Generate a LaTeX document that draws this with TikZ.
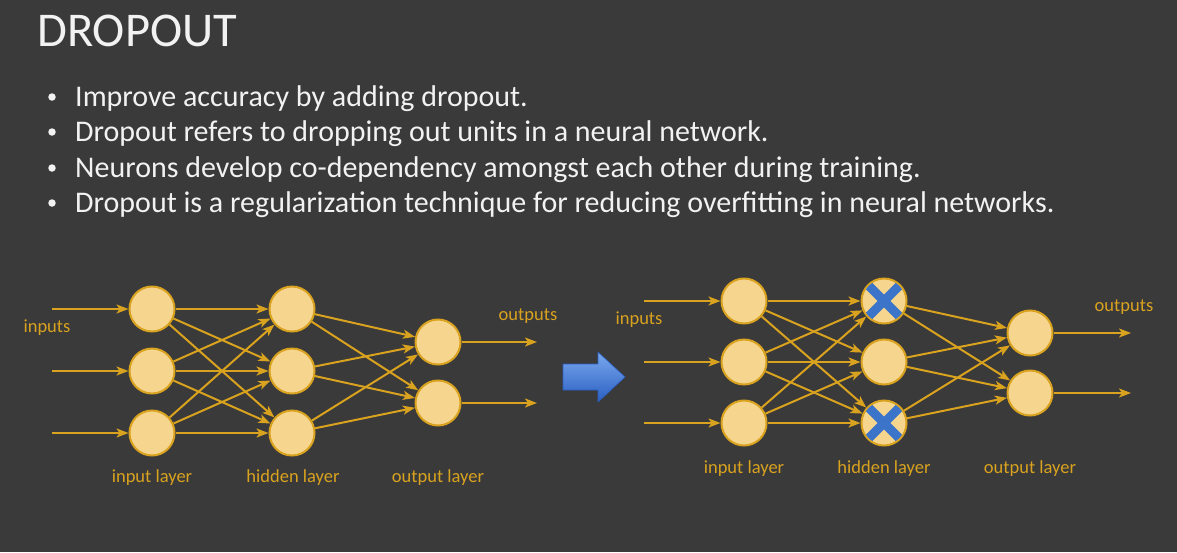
\documentclass[tikz,border=0pt]{standalone}
\usepackage{fontspec}
\setmainfont{Carlito}
\usetikzlibrary{arrows.meta}
\definecolor{bg}{HTML}{3A3A3A}
\definecolor{gold}{HTML}{D9A21F}
\definecolor{nfill}{HTML}{F6D58E}
\definecolor{xblue}{HTML}{3B74C9}
\definecolor{abtop}{HTML}{7AA8EE}
\definecolor{abbot}{HTML}{2A5FC2}
\definecolor{txt}{HTML}{F2F2F2}
\begin{document}
\begin{tikzpicture}[x=1pt,y=-1pt,
 neuron/.style={circle,draw=gold,line width=2pt,fill=nfill,minimum size=45pt,inner sep=0pt},
 conn/.style={draw=gold,line width=2pt,-{Stealth[length=12pt,width=9pt,inset=3pt]}},
 lbl/.style={text=gold,font=\fontsize{18.5}{21}\selectfont},
 btext/.style={text=txt,anchor=base west,inner sep=0pt,font=\fontsize{30}{34}\selectfont},
 bdot/.style={circle,fill=txt,minimum size=7.5pt,inner sep=0pt},
 crossx/.style={draw=xblue,line width=9pt}]
\fill[bg] (0,0) rectangle (1177,552);
\useasboundingbox (0,0) rectangle (1177,552);

\node[text=txt,anchor=base west,inner sep=0pt,font=\fontsize{48.5}{52}\selectfont] (title) at (37,46) {DROPOUT};

\foreach \y/\t [count=\k] in {106/{Improve accuracy by adding dropout.},
  141/{Dropout refers to dropping out units in a neural network.},
  177/{Neurons develop co-dependency amongst each other during training.},
  212/{Dropout is a regularization technique for reducing overfitting in neural networks.}}{
  \node[bdot] (bd\k) at (52,\y-9) {};
  \node[btext] (bt\k) at (75,\y) {\t};
}

% left network
\foreach \i/\y in {1/309,2/371,3/433}{
  \node[neuron] (LI\i) at (152,\y) {};
  \node[neuron] (LH\i) at (292,\y) {};
  \coordinate (LS\i) at (52,\y);
}
\node[neuron] (LO1) at (438,342) {};
\node[neuron] (LO2) at (438,403) {};
\coordinate (LE1) at (537,342);
\coordinate (LE2) at (537,403);
\foreach \i in {1,2,3}{
  \draw[conn] (LS\i) -- (LI\i);
  \foreach \j in {1,2,3} \draw[conn] (LI\i) -- (LH\j);
  \foreach \j in {1,2} \draw[conn] (LH\i) -- (LO\j);
}
\foreach \j in {1,2} \draw[conn] (LO\j) -- (LE\j);
\node[lbl] (Linputs) at (47,328) {inputs};
\node[lbl] (Loutputs) at (528,316) {outputs};
\node[lbl] (Linl) at (152,478) {input layer};
\node[lbl] (Lhl) at (293,478) {hidden layer};
\node[lbl] (Lol) at (438,478) {output layer};

% right network
\foreach \i/\y in {1/301,2/362,3/423}{
  \node[neuron] (RI\i) at (744,\y) {};
  \node[neuron] (RH\i) at (884,\y) {};
  \coordinate (RS\i) at (644,\y);
}
\node[neuron] (RO1) at (1030,333) {};
\node[neuron] (RO2) at (1030,393) {};
\coordinate (RE1) at (1131,333);
\coordinate (RE2) at (1131,393);
\foreach \i in {1,2,3}{
  \draw[conn] (RS\i) -- (RI\i);
  \foreach \j in {1,2,3} \draw[conn] (RI\i) -- (RH\j);
  \foreach \j in {1,2} \draw[conn] (RH\i) -- (RO\j);
}
\foreach \j in {1,2} \draw[conn] (RO\j) -- (RE\j);
\foreach \n in {RH1,RH3}{
  \begin{scope}
    \clip (\n.center) circle (21.5pt);
    \draw[crossx] ([shift={(-18,-18)}]\n.center) -- ([shift={(18,18)}]\n.center);
    \draw[crossx] ([shift={(-18,18)}]\n.center) -- ([shift={(18,-18)}]\n.center);
  \end{scope}
}
\node[lbl] (Rinputs) at (639,320) {inputs};
\node[lbl] (Routputs) at (1124,307) {outputs};
\node[lbl] (Rinl) at (744,469) {input layer};
\node[lbl] (Rhl) at (884,469) {hidden layer};
\node[lbl] (Rol) at (1030,469) {output layer};

% blue arrow
\shade[top color=abtop,bottom color=abbot,draw=abbot,line width=0.6pt]
  (563,364) -- (598,364) -- (598,352) -- (625,377) -- (598,402) -- (598,390) -- (563,390) -- cycle;
\end{tikzpicture}
\end{document}
